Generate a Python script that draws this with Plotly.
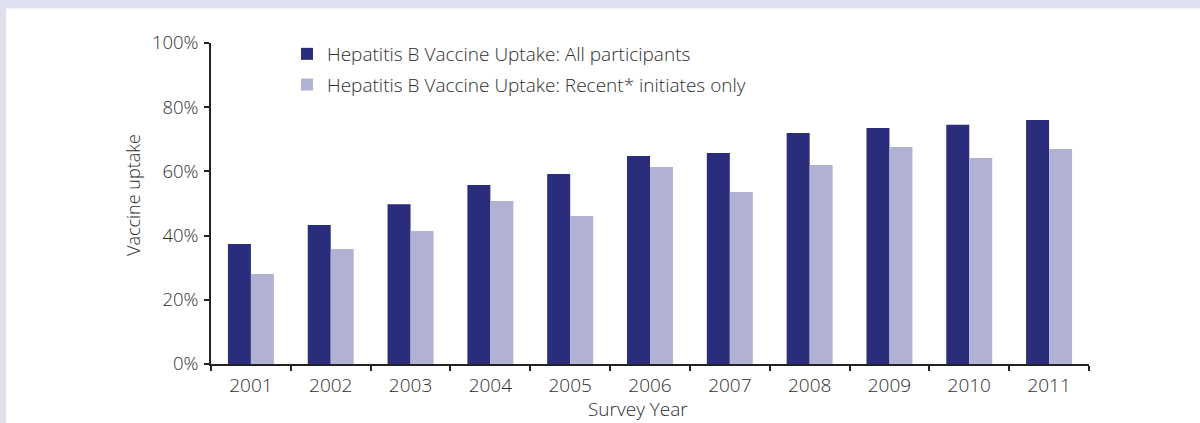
import plotly.graph_objects as go

years = ["2001", "2002", "2003", "2004", "2005", "2006", "2007", "2008", "2009", "2010", "2011"]
all_participants = [0.374, 0.433, 0.498, 0.558, 0.592, 0.648, 0.657, 0.720, 0.735, 0.745, 0.760]
recent_initiates = [0.280, 0.358, 0.414, 0.508, 0.461, 0.614, 0.536, 0.620, 0.676, 0.642, 0.670]
series_names = [
    "Hepatitis B Vaccine Uptake: All participants",
    "Hepatitis B Vaccine Uptake: Recent* initiates only",
]
y_ticks = [0, 0.2, 0.4, 0.6, 0.8, 1.0]
y_tick_labels = ["0%", "20%", "40%", "60%", "80%", "100%"]
x_title = "Survey Year"
y_title = "Vaccine uptake"

DARK = "#292d7c"
LIGHT = "#b0b1d3"
TEXT = "#2e2e2e"
AXIS = "#222222"
BAND = "#dfe0ef"
FONT = "Open Sans"

W, H = 1200, 423
ML, MR, MT, MB = 211, 111, 43, 59
PW, PH = W - ML - MR, H - MT - MB

fig = go.Figure()
fig.add_trace(go.Bar(x=years, y=all_participants, name=series_names[0],
                     marker=dict(color=DARK, line=dict(width=0)), legendgroup="a"))
fig.add_trace(go.Bar(x=years, y=recent_initiates, name=series_names[1],
                     marker=dict(color=LIGHT, line=dict(width=0)), legendgroup="b"))

def px_x(p):
    return (p - ML) / PW

def px_y(p):
    return (H - p - MB) / PH

shapes = [
    dict(type="rect", xref="paper", yref="paper", layer="below",
         x0=px_x(0), x1=px_x(W), y0=px_y(8.5), y1=px_y(0),
         fillcolor=BAND, line=dict(width=0)),
    dict(type="rect", xref="paper", yref="paper", layer="below",
         x0=px_x(0), x1=px_x(6), y0=px_y(H), y1=px_y(0),
         fillcolor=BAND, line=dict(width=0)),
]

def f(size):
    return dict(family=FONT, size=size, color=TEXT, weight=300)

annotations = [
    dict(text=x_title, xref="paper", yref="paper", x=px_x(638), y=px_y(H),
         xanchor="center", yanchor="bottom", showarrow=False, font=f(19), borderpad=0),
    dict(text=y_title, xref="paper", yref="paper", x=px_x(133), y=px_y(195),
         xanchor="center", yanchor="middle", textangle=-90, showarrow=False, font=f(18)),
]

fig.update_layout(
    width=W, height=H,
    margin=dict(l=ML, r=MR, t=MT, b=MB, pad=0, autoexpand=False),
    paper_bgcolor="white", plot_bgcolor="white",
    font=f(18),
    barmode="group", bargap=0.424, bargroupgap=0,
    shapes=shapes,
    annotations=annotations,
    showlegend=True,
    legend=dict(x=px_x(287), y=px_y(35), xanchor="left", yanchor="top",
                bgcolor="rgba(0,0,0,0)", font=f(19),
                traceorder="grouped", tracegroupgap=3),
    xaxis=dict(
        automargin=False,
        showline=True, linecolor=AXIS, linewidth=1.5,
        ticks="outside", tickson="boundaries", ticklen=5, tickcolor=AXIS, tickwidth=1.5,
        tickfont=f(19), ticklabelstandoff=3,
        showgrid=False, zeroline=False,
    ),
    yaxis=dict(
        automargin=False,
        range=[0, 1], tickvals=y_ticks, ticktext=y_tick_labels,
        showline=True, linecolor=AXIS, linewidth=1.5,
        ticks="outside", ticklen=5, tickcolor=AXIS, tickwidth=1.5,
        tickfont=f(18.5), ticklabelstandoff=2,
        showgrid=False, zeroline=False,
    ),
)

fig.write_html("out.html")
